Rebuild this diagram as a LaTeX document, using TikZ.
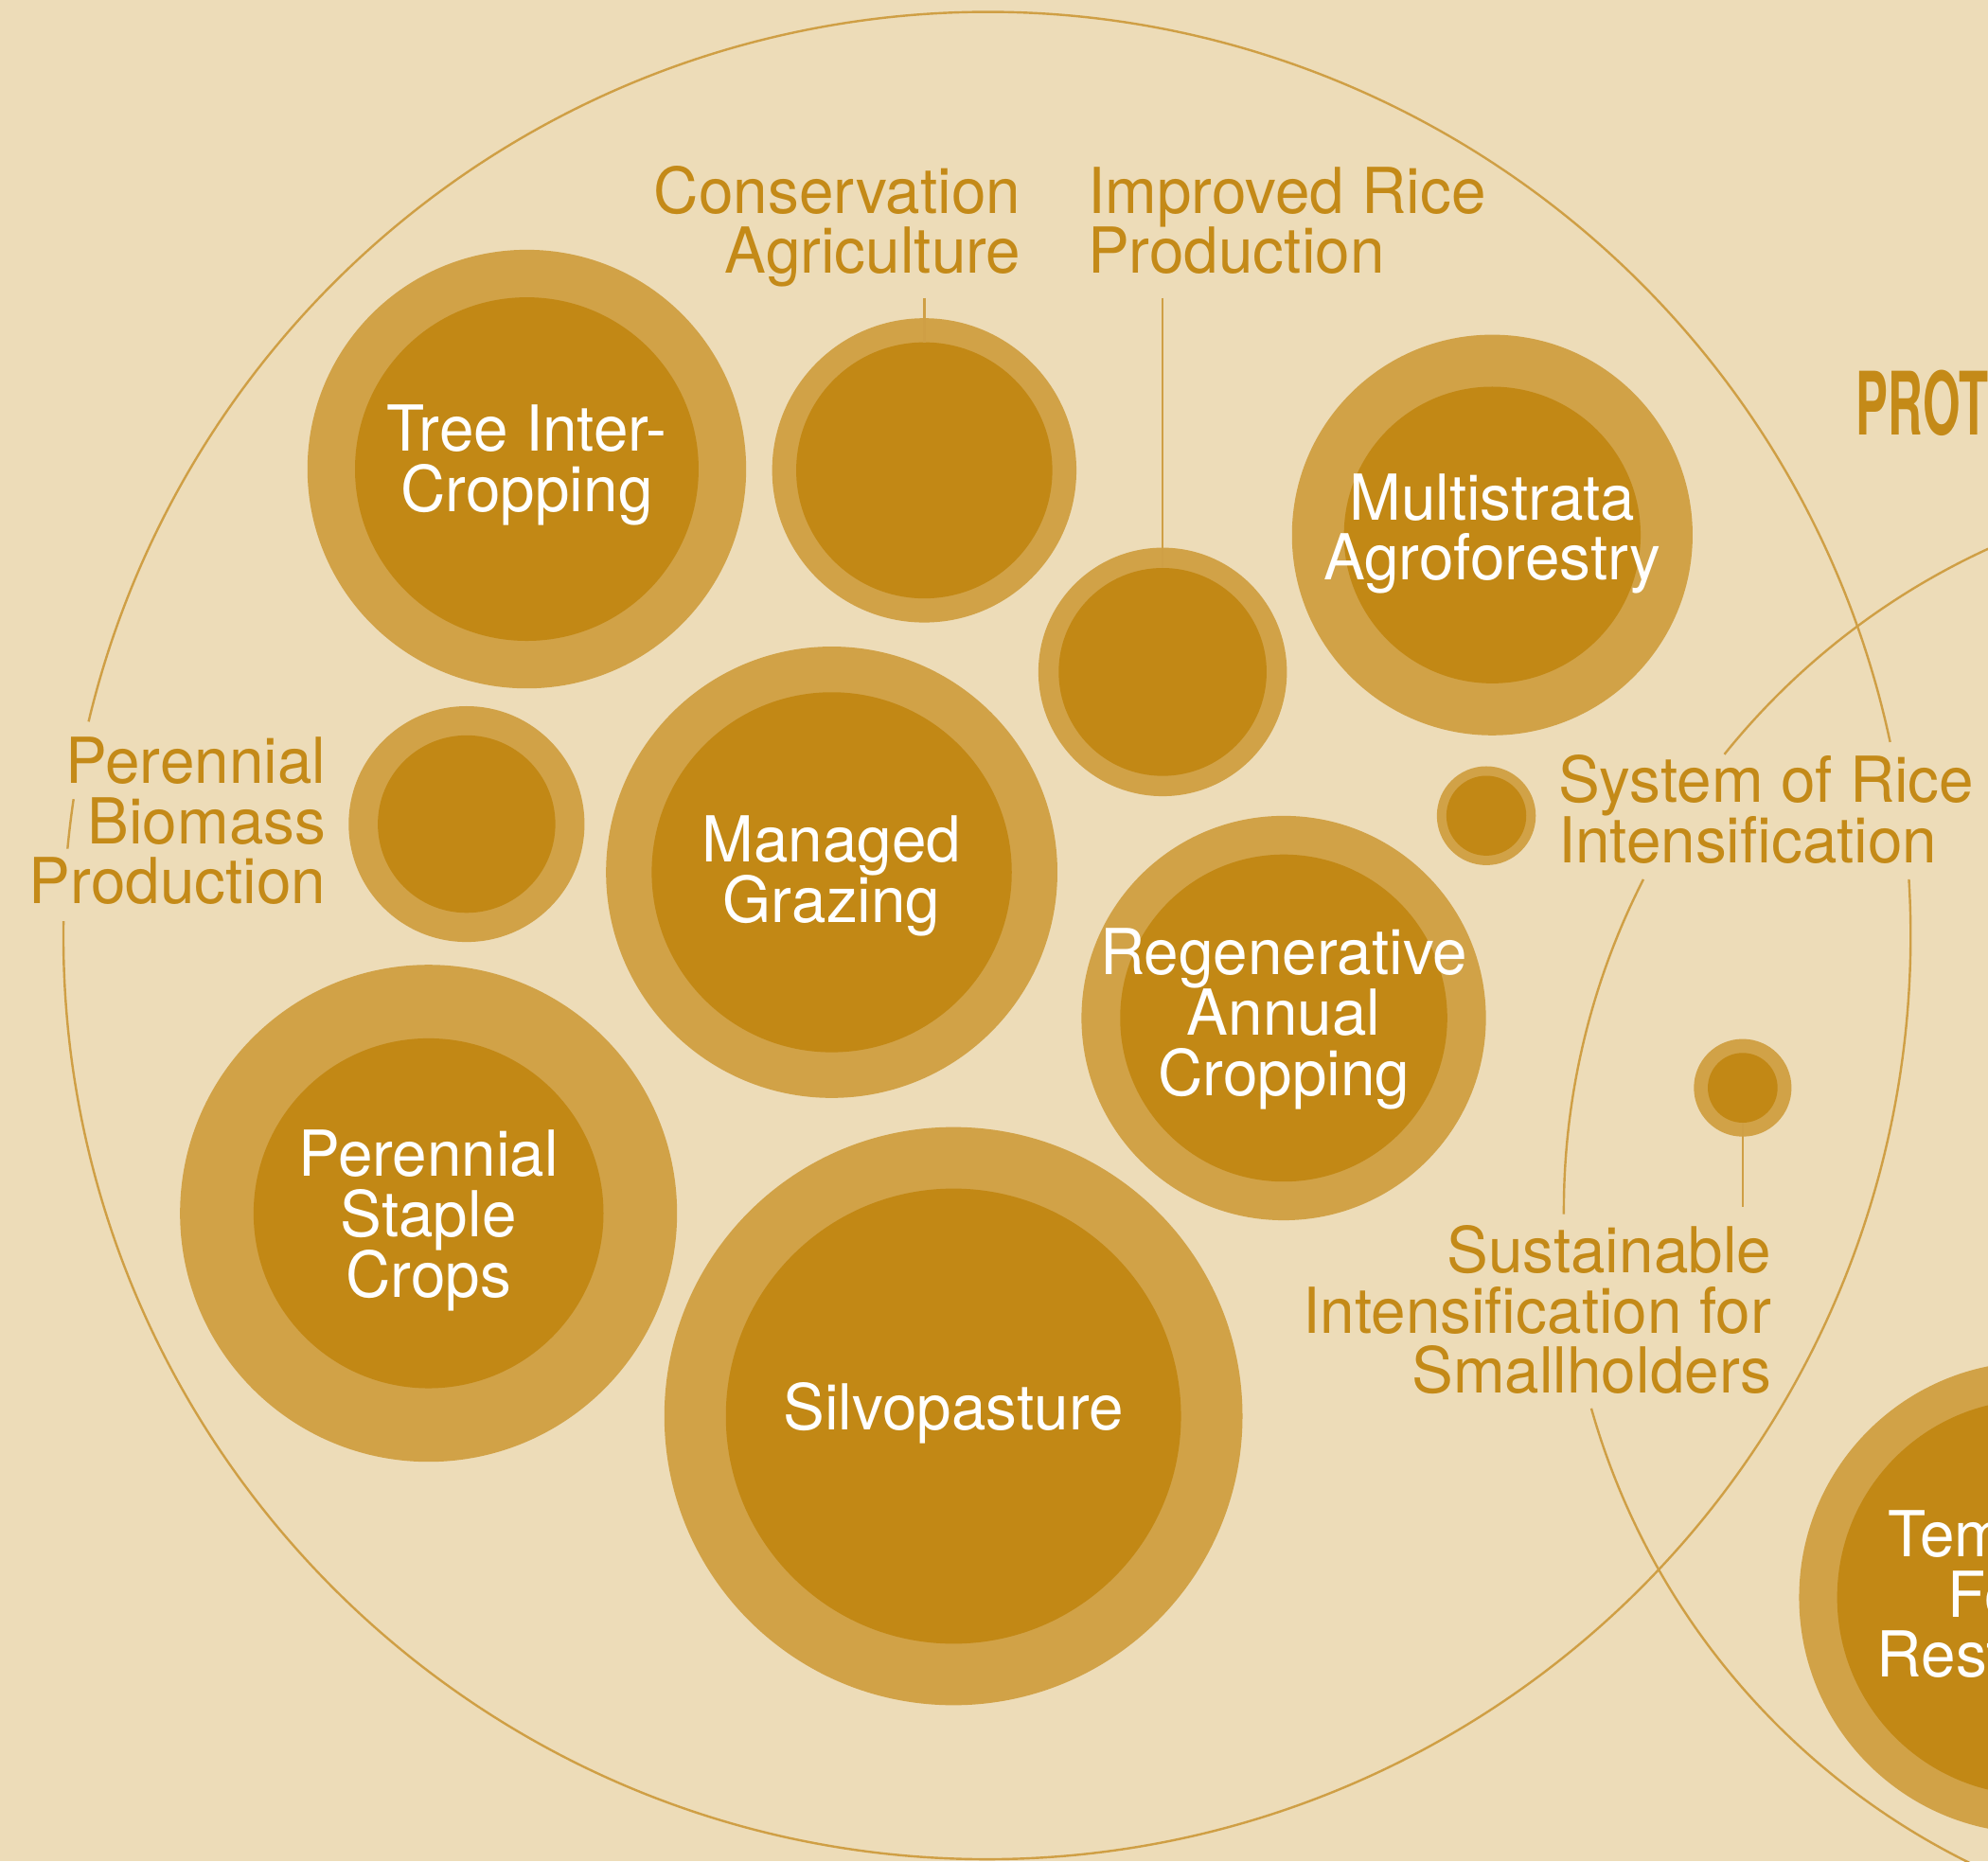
\documentclass[tikz,border=0pt]{standalone}
\usepackage{fontspec}
\setmainfont{TeX Gyre Heros}[FakeStretch=0.98]
\newfontfamily\headfont{TeX Gyre Heros}[FakeStretch=0.55]
\definecolor{bg}{HTML}{EDDCB8}
\definecolor{ring}{HTML}{D1A247}
\definecolor{core}{HTML}{C28815}
\definecolor{labc}{HTML}{C48A18}
\definecolor{linec}{HTML}{CF9F45}
\newcommand\labfont{\fontsize{50}{47.5}\selectfont\lineskiplimit=-100pt\lineskip=0pt\relax}
\newcommand\fl{\rule{0pt}{40pt}}
\tikzset{
  ringc/.style={circle, fill=ring, inner sep=0pt, outer sep=0pt, minimum size=#1},
  corec/.style={circle, fill=core, inner sep=0pt, outer sep=0pt, minimum size=#1},
  lab/.style={font=\labfont, text=labc, inner sep=0pt, outer sep=0pt},
  wlab/.style={font=\labfont, text=white, inner sep=0pt, outer sep=0pt, align=center, anchor=north},
  thinline/.style={draw=linec, line width=1.8pt},
}
\begin{document}
\begin{tikzpicture}[x=1pt,y=-1pt]
\useasboundingbox (0,0) rectangle (1568,1468);
\fill[bg] (0,0) rectangle (1568,1468);
\begin{scope}
\clip (0,0) rectangle (1568,1468);
% big outline circles
\coordinate (c1) at (778.5,738);
\coordinate (c2) at (1807.4,954.6);
\draw[thinline] ([shift={(-12.1:728.5)}]c1) arc[start angle=-12.1, end angle=-166.6, radius=728.5];
\draw[thinline] ([shift={(-171.5:728.5)}]c1) arc[start angle=-171.5, end angle=-174.6, radius=728.5];
\draw[thinline] ([shift={(-179.1:728.5)}]c1) arc[start angle=-179.1, end angle=-363.5, radius=728.5];
\draw[thinline] ([shift={(-95:574)}]c2) arc[start angle=-95, end angle=-141.2, radius=574];
\draw[thinline] ([shift={(-152.95:574)}]c2) arc[start angle=-152.95, end angle=-180.3, radius=574];
\draw[thinline] ([shift={(-195.8:574)}]c2) arc[start angle=-195.8, end angle=-265, radius=574];

% circles
\node[ringc=346] (treeO) at (415.5,370) {};
\node[corec=271] (treeI) at (415.5,370) {};
\node[ringc=240] (consO) at (729,371) {};
\node[corec=202] (consI) at (729,371) {};
\node[ringc=196] (riceO) at (917,530) {};
\node[corec=164] (riceI) at (917,530) {};
\node[ringc=316] (multiO) at (1177,422) {};
\node[corec=234] (multiI) at (1177,422) {};
\node[ringc=186] (bioO) at (368,650) {};
\node[corec=140] (bioI) at (368,650) {};
\node[ringc=356] (grazO) at (656,688) {};
\node[corec=284] (grazI) at (656,688) {};
\node[ringc=78] (sriO) at (1172.3,643.4) {};
\node[corec=63] (sriI) at (1172.3,643.4) {};
\node[ringc=319] (regO) at (1012.5,803) {};
\node[corec=258] (regI) at (1012.5,803) {};
\node[ringc=77] (susO) at (1374.5,858) {};
\node[corec=55] (susI) at (1374.5,858) {};
\node[ringc=392] (stapO) at (338,957) {};
\node[corec=276] (stapI) at (338,957) {};
\node[ringc=456] (silO) at (752,1117) {};
\node[corec=359] (silI) at (752,1117) {};
\node[ringc=372] (tempO) at (1605,1260) {};
\node[corec=312] (tempI) at (1605,1260) {};

% leaders
\coordinate (consTop) at (729,235);
\coordinate (riceTop) at (917,235);
\coordinate (susEnd) at (1374.5,952);
\draw[thinline] (consTop) -- (consI.north);
\draw[thinline] (riceTop) -- (riceI.north);
\draw[thinline] (susI.south) -- (susEnd);

% outside labels
\node[lab, align=right, anchor=north east] (consL) at (805,128) {\fl Conservation\\Agriculture};
\node[lab, align=left, anchor=north west] (riceL) at (858,128) {\fl Improved Rice\\Production};
\node[lab, align=right, anchor=north east] (bioL) at (257,578) {\fl Perennial\\Biomass\\Production};
\node[lab, align=left, anchor=north west] (sriL) at (1229,593) {\fl System of Rice\\Intensification};
\node[lab, align=right, anchor=north east] (susL) at (1397,964) {\fl Sustainable\\Intensification for\\Smallholders};

% inside labels
\node[wlab] (treeT) at (415.5,316) {\fl Tree Inter-\\Cropping};
\node[wlab] (multiT) at (1177,370) {\fl Multistrata\\Agroforestry};
\node[wlab] (grazT) at (656,640) {\fl Managed\\Grazing};
\node[wlab] (regT) at (1012.5,729) {\fl Regenerative\\Annual\\Cropping};
\node[wlab] (stapT) at (338,888) {\fl Perennial\\Staple\\Crops};
\node[wlab] (silT) at (752,1088) {\fl Silvopasture};
\node[wlab] (tempT) at (1605,1188) {\fl Temperate\\Forest\\Restoration};

% header
\node[anchor=base west, inner sep=0pt, outer sep=0pt, text=labc, font={\headfont\bfseries\fontsize{69}{69}\selectfont}] (head) at (1464,343) {PROT};
\end{scope}
\end{tikzpicture}
\end{document}
